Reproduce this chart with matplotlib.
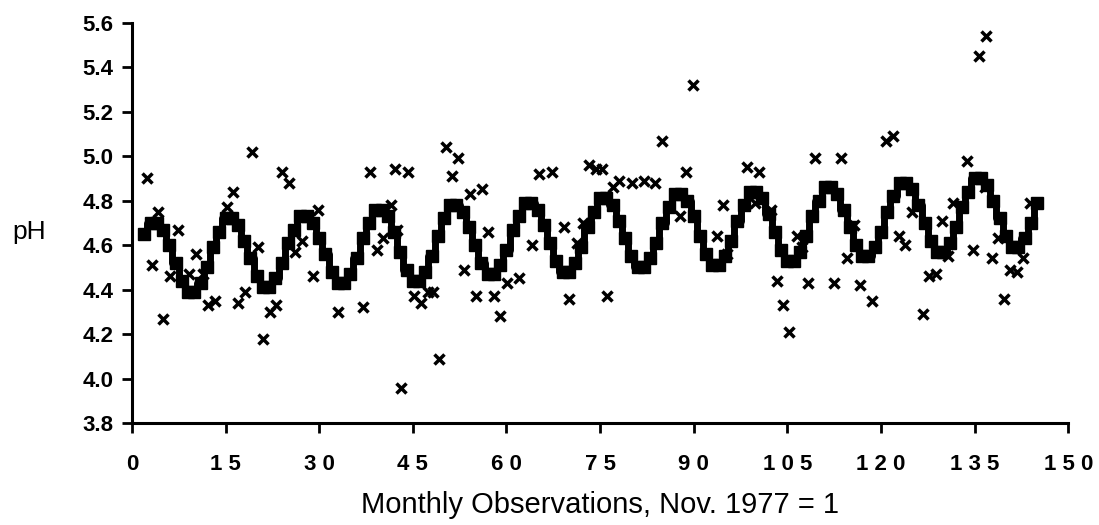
"""
Monthly pH observations with fitted seasonal + trend model (stepped line).
"""
import matplotlib
matplotlib.use("Agg")
import matplotlib.pyplot as plt

plt.rcParams["font.family"] = ["Liberation Sans", "DejaVu Sans"]

# fitted model, months 2..145
fit_months = list(range(2, 146))
fit_ph = [
    4.65,
    4.70, 4.70, 4.67, 4.60, 4.52, 4.44, 4.39, 4.39, 4.43, 4.50, 4.59, 4.66,
    4.72, 4.72, 4.69, 4.62, 4.54, 4.46, 4.41, 4.41, 4.45, 4.52, 4.61, 4.67,
    4.73, 4.73, 4.70, 4.63, 4.56, 4.48, 4.43, 4.43, 4.47, 4.54, 4.63, 4.70,
    4.76, 4.76, 4.73, 4.66, 4.57, 4.49, 4.44, 4.44, 4.48, 4.55, 4.64, 4.72,
    4.78, 4.78, 4.75, 4.68, 4.60, 4.52, 4.47, 4.47, 4.51, 4.58, 4.67, 4.73,
    4.79, 4.79, 4.76, 4.69, 4.61, 4.53, 4.48, 4.48, 4.52, 4.59, 4.68, 4.75,
    4.81, 4.81, 4.78, 4.71, 4.63, 4.55, 4.50, 4.50, 4.54, 4.61, 4.70, 4.77,
    4.83, 4.83, 4.80, 4.73, 4.64, 4.56, 4.51, 4.51, 4.55, 4.62, 4.71, 4.78,
    4.84, 4.84, 4.81, 4.74, 4.66, 4.58, 4.53, 4.53, 4.57, 4.64, 4.73, 4.80,
    4.86, 4.86, 4.83, 4.76, 4.68, 4.60, 4.55, 4.55, 4.59, 4.66, 4.75, 4.82,
    4.88, 4.88, 4.85, 4.78, 4.70, 4.62, 4.57, 4.57, 4.61, 4.68, 4.77, 4.84,
    4.90, 4.90, 4.87, 4.80, 4.72, 4.64, 4.59, 4.59, 4.63, 4.70, 4.79,
]

# observed values
obs_month = [
    2.4, 3.2, 4.2, 5.0, 6.1, 7.4, 9.1, 10.3, 11.4, 12.2, 13.3,
    15.2, 16.2, 17.0, 18.1, 19.2, 20.2, 21.0, 22.1, 23.1, 24.0, 25.2, 26.1, 27.2, 29.0, 29.8,
    33.0, 37.0, 38.1, 39.3, 40.2, 41.5, 42.1, 42.5, 43.1, 44.2, 45.2, 46.3, 47.4, 48.2, 49.2,
    50.3, 51.3, 52.2, 53.2, 54.2, 55.1, 56.1, 57.0, 58.0, 59.0, 60.1, 62.0, 64.1, 65.2, 67.3,
    69.2, 70.0, 71.3, 72.3, 73.2, 74.4, 75.3, 76.1, 77.1, 78.0, 80.1, 82.0, 83.8, 84.9,
    87.8, 88.8, 89.9, 93.8, 94.7, 95.4, 98.6, 99.8, 100.5, 102.4, 103.4, 104.3, 105.3,
    106.6, 107.4, 108.3, 109.5, 112.5, 113.6, 114.6, 115.7, 116.7, 118.6,
    120.8, 122.0, 122.9, 123.9, 125.0, 126.8, 127.7, 128.8, 129.8, 130.8, 131.6,
    133.8, 134.8, 135.7, 136.9, 136.7, 137.8, 138.8, 139.7, 140.7, 141.8, 142.8, 143.8, 145.0,
]
obs_ph = [
    4.90, 4.51, 4.75, 4.27, 4.46, 4.67, 4.47, 4.56, 4.47, 4.33, 4.35,
    4.77, 4.84, 4.34, 4.39, 5.02, 4.59, 4.18, 4.30, 4.33, 4.93, 4.88, 4.57, 4.62, 4.46, 4.76,
    4.30, 4.32, 4.93, 4.58, 4.63, 4.78, 4.94, 4.67, 3.96, 4.93, 4.37, 4.34, 4.39, 4.39, 4.09,
    5.04, 4.91, 4.99, 4.49, 4.83, 4.37, 4.85, 4.66, 4.37, 4.28, 4.43, 4.45, 4.60, 4.92, 4.93,
    4.68, 4.36, 4.61, 4.70, 4.96, 4.94, 4.94, 4.37, 4.86, 4.89, 4.88, 4.89, 4.88, 5.07,
    4.73, 4.93, 5.32, 4.64, 4.78, 4.56, 4.95, 4.79, 4.93, 4.76, 4.44, 4.33, 4.21,
    4.64, 4.59, 4.43, 4.99, 4.43, 4.99, 4.54, 4.69, 4.42, 4.35,
    5.07, 5.09, 4.64, 4.60, 4.75, 4.29, 4.46, 4.47, 4.71, 4.55, 4.79,
    4.98, 4.58, 5.45, 5.54, 4.86, 4.54, 4.63, 4.36, 4.49, 4.48, 4.54, 4.79, 4.79,
]

x_ticks = list(range(0, 151, 15))
x_tick_labels = ["0", "1 5", "3 0", "4 5", "6 0", "7 5", "9 0",
                 "1 0 5", "1 2 0", "1 3 5", "1 5 0"]
y_ticks = [3.8, 4.0, 4.2, 4.4, 4.6, 4.8, 5.0, 5.2, 5.4, 5.6]


def main():
    fig = plt.figure(figsize=(10.99, 5.25), dpi=100)
    ax = fig.add_axes([0.120, 0.194, 0.852, 0.763])

    ax.plot(fit_months, fit_ph, color="black", lw=5, drawstyle="steps-mid",
            marker="s", markersize=8.5, zorder=2)
    ax.plot(obs_month, obs_ph, linestyle="none", marker="x", color="black",
            markersize=6.5, markeredgewidth=2.5, zorder=3)

    ax.set_xlim(0, 150)
    ax.set_ylim(3.8, 5.6)
    ax.set_xticks(x_ticks)
    ax.set_xticklabels(x_tick_labels, fontsize=16, fontweight="bold")
    ax.set_yticks(y_ticks)
    ax.set_yticklabels([f"{v:.1f}" for v in y_ticks], fontsize=16, fontweight="bold")

    for side in ("top", "right"):
        ax.spines[side].set_visible(False)
    for side in ("left", "bottom"):
        ax.spines[side].set_linewidth(2.2)
    ax.tick_params(axis="x", direction="out", length=7, width=2, pad=15)
    ax.tick_params(axis="y", direction="out", length=7, width=2, pad=6)

    fig.text(0.011, 0.558, "pH", fontsize=19, va="center", ha="left")
    fig.text(0.546, 0.038, "Monthly Observations, Nov. 1977 = 1",
             fontsize=21, ha="center", va="center")

    fig.savefig("out.png", dpi=100)
    plt.close(fig)


if __name__ == "__main__":
    main()
